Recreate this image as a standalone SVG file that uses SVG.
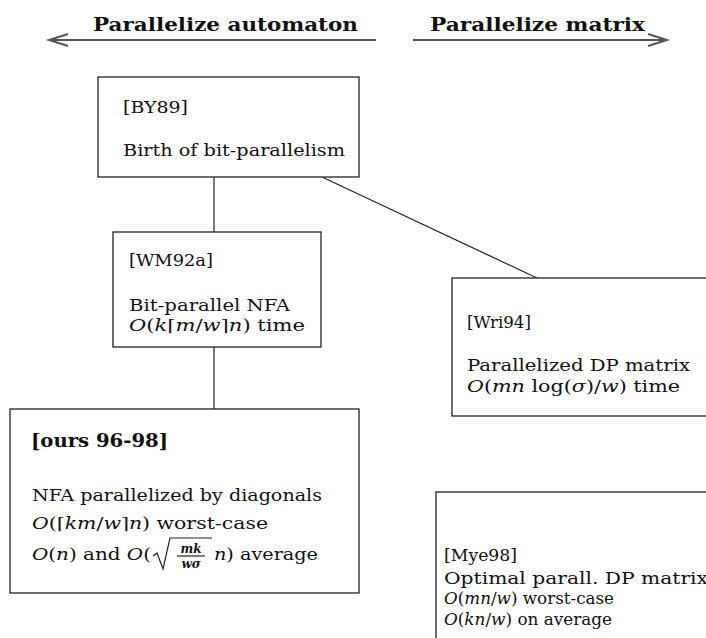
<svg xmlns="http://www.w3.org/2000/svg" width="706" height="638" viewBox="0 0 706 638">
<style>
  .box { fill: #fff; stroke: #222; stroke-width: 1.3; }
  .conn { stroke: #222; stroke-width: 1.2; fill: none; }
  .hdr { stroke: #555; stroke-width: 2; fill: none; }
  text { font-family: "DejaVu Serif", "Liberation Serif", serif; font-size: 16px; fill: #111; }
  .big { font-size: 19px; font-weight: bold; }
  .it { font-style: italic; }
  .sm { font-size: 12px; font-style: italic; font-weight: bold; }
</style>
<rect width="706" height="638" fill="#fff"/>
<g id="headers">
  <path class="hdr" d="M49,40 H376 M68,34 L49,40 L68,46"/>
  <path class="hdr" d="M413,40 H667 M648,34 L667,40 L648,46"/>
  <text class="big" x="93" y="31" textLength="265" lengthAdjust="spacingAndGlyphs">Parallelize automaton</text>
  <text class="big" x="430" y="31" textLength="215" lengthAdjust="spacingAndGlyphs">Parallelize matrix</text>
</g>
<g id="connectors">
  <line class="conn" x1="214" y1="177" x2="214" y2="232"/>
  <line class="conn" x1="322" y1="177" x2="537" y2="278"/>
  <line class="conn" x1="214" y1="347" x2="214" y2="409"/>
</g>
<g id="BY89">
  <rect class="box" x="98" y="77" width="261" height="100"/>
  <text x="123" y="113" textLength="65" lengthAdjust="spacingAndGlyphs">[BY89]</text>
  <text x="123" y="156" textLength="222" lengthAdjust="spacingAndGlyphs">Birth of bit-parallelism</text>
</g>
<g id="WM92a">
  <rect class="box" x="113" y="232" width="208" height="115"/>
  <text x="129" y="266" textLength="84" lengthAdjust="spacingAndGlyphs">[WM92a]</text>
  <text x="129" y="311" textLength="161" lengthAdjust="spacingAndGlyphs">Bit-parallel NFA</text>
  <text x="129" y="331" textLength="176" lengthAdjust="spacingAndGlyphs"><tspan class="it">O</tspan>(<tspan class="it">k</tspan>⌈<tspan class="it">m</tspan>/<tspan class="it">w</tspan>⌉<tspan class="it">n</tspan>) time</text>
</g>
<g id="Wri94">
  <rect class="box" x="452" y="278" width="270" height="138"/>
  <text x="467" y="328" textLength="64" lengthAdjust="spacingAndGlyphs">[Wri94]</text>
  <text x="467" y="371" textLength="223" lengthAdjust="spacingAndGlyphs">Parallelized DP matrix</text>
  <text x="467" y="392" textLength="213" lengthAdjust="spacingAndGlyphs"><tspan class="it">O</tspan>(<tspan class="it">mn</tspan> log(<tspan class="it">σ</tspan>)/<tspan class="it">w</tspan>) time</text>
</g>
<g id="ours">
  <rect class="box" x="10" y="409" width="349" height="184"/>
  <text class="big" x="31" y="447" textLength="137" lengthAdjust="spacingAndGlyphs">[ours 96-98]</text>
  <text x="32" y="501" textLength="290" lengthAdjust="spacingAndGlyphs">NFA parallelized by diagonals</text>
  <text x="32" y="529" textLength="236" lengthAdjust="spacingAndGlyphs"><tspan class="it">O</tspan>(⌈<tspan class="it">km</tspan>/<tspan class="it">w</tspan>⌉<tspan class="it">n</tspan>) worst-case</text>
  <text x="32" y="560" textLength="119" lengthAdjust="spacingAndGlyphs"><tspan class="it">O</tspan>(<tspan class="it">n</tspan>) and <tspan class="it">O</tspan>(</text>
  <path class="conn" d="M153,556 L157,553 L163,569 L170,538 H212" stroke-width="1.3"/>
  <text class="sm" x="191" y="553" text-anchor="middle">mk</text>
  <line class="conn" x1="177" y1="556" x2="205" y2="556"/>
  <text class="sm" x="191" y="568" text-anchor="middle">wσ</text>
  <text x="214" y="560" textLength="104" lengthAdjust="spacingAndGlyphs"><tspan class="it">n</tspan>) average</text>
</g>
<g id="Mye98">
  <rect class="box" x="436" y="492" width="290" height="160"/>
  <text x="444" y="561" textLength="73" lengthAdjust="spacingAndGlyphs">[Mye98]</text>
  <text x="444" y="584" textLength="264" lengthAdjust="spacingAndGlyphs">Optimal parall. DP matrix</text>
  <text x="444" y="604" textLength="170" lengthAdjust="spacingAndGlyphs"><tspan class="it">O</tspan>(<tspan class="it">mn</tspan>/<tspan class="it">w</tspan>) worst-case</text>
  <text x="444" y="625" textLength="168" lengthAdjust="spacingAndGlyphs"><tspan class="it">O</tspan>(<tspan class="it">kn</tspan>/<tspan class="it">w</tspan>) on average</text>
</g>
</svg>
